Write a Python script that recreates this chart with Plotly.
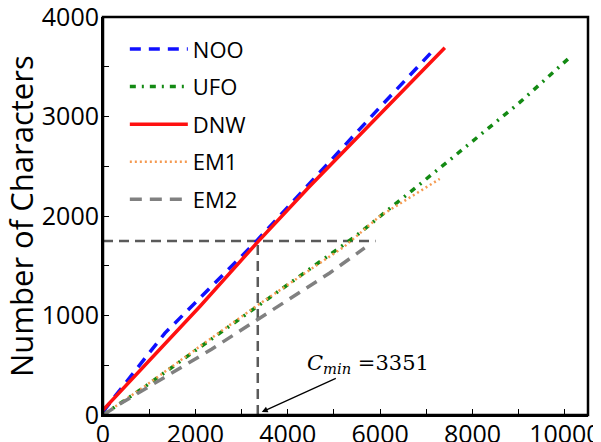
import plotly.graph_objects as go

# ---- data ----
noo_x = [0, 280, 1340, 3250, 5917, 7180]
noo_y = [30, 200, 823, 1712, 3054, 3680]

ufo_x = [0, 908, 2097, 3351, 5449, 7430, 9016, 10155]
ufo_y = [0, 285, 680, 1098, 1790, 2534, 3139, 3615]

dnw_x = [0, 2097, 3351, 4476, 7400]
dnw_y = [50, 1091, 1740, 2299, 3690]

em1_x = [0, 908, 2097, 3351, 5232, 5989, 7290]
em1_y = [0, 290, 690, 1105, 1695, 1997, 2373]

em2_x = [0, 400, 2350, 3351, 4187, 4908, 5665]
em2_y = [0, 120, 661, 957, 1209, 1427, 1679]

c_min = 3351
char_level = 1750
guide_x_end = 5900

x_range = [0, 10500]
y_range = [0, 4000]
x_ticks = [0, 1000, 2000, 3000, 4000, 5000, 6000, 7000, 8000, 9000, 10000]
x_tick_text = ["0", "", "2000", "", "4000", "", "6000", "", "8000", "", "10000"]
y_ticks = [0, 500, 1000, 1500, 2000, 2500, 3000, 3500, 4000]
y_tick_text = ["0", "", "1000", "", "2000", "", "3000", "", "4000"]

FONT = "Open Sans"

fig = go.Figure()

series = [
    ("NOO", noo_x, noo_y, "#1010ff", 3.5, "11px,8px"),
    ("UFO", ufo_x, ufo_y, "#138a13", 3.5, "6px,6px,2px,6px"),
    ("DNW", dnw_x, dnw_y, "#ff1010", 3.5, "solid"),
    ("EM1", em1_x, em1_y, "#f59a50", 2.5, "2px,3px"),
    ("EM2", em2_x, em2_y, "#808080", 3.5, "12px,8px"),
]

# guide lines
fig.add_trace(go.Scatter(x=[0, guide_x_end], y=[char_level, char_level], mode="lines",
                         line=dict(color="#5a5a5a", width=2.5, dash="10px,6px"),
                         showlegend=False, hoverinfo="skip"))
fig.add_trace(go.Scatter(x=[c_min, c_min], y=[0, char_level], mode="lines",
                         line=dict(color="#5a5a5a", width=2.5, dash="10px,6px"),
                         showlegend=False, hoverinfo="skip"))

for name, xs, ys, col, w, dash in series:
    fig.add_trace(go.Scatter(x=xs, y=ys, mode="lines", name=name, legendgroup=name,
                             line=dict(color=col, width=w, dash=dash)))

fig.add_annotation(x=3437, y=30, ax=5730, ay=514, xref="x", yref="y", axref="x", ayref="y",
                   text="<i>C</i><sub><i>min</i></sub> =3351", showarrow=True,
                   arrowhead=2, arrowsize=1, arrowwidth=1.2, arrowcolor="black",
                   font=dict(family="DejaVu Serif", size=21, color="black"))

# y-axis title placed as rotated text
fig.add_annotation(x=-0.169, y=0.5, xref="paper", yref="paper", xanchor="center", yanchor="middle",
                   text="Number of Characters", textangle=-90, showarrow=False,
                   font=dict(family=FONT, size=31, color="black"))

# frame round the plot area
fig.add_shape(type="rect", xref="paper", yref="paper", x0=0, y0=0, x1=1, y1=1,
              line=dict(color="black", width=2.5), layer="above")

axis_common = dict(showline=True, linecolor="black", linewidth=2,
                   ticks="inside", ticklen=6, tickwidth=1.3, tickcolor="black",
                   showgrid=False, zeroline=False, automargin=False,
                   ticklabeloverflow="allow",
                   tickfont=dict(family=FONT, size=25, color="black"))

fig.update_layout(
    xaxis=dict(range=x_range, tickvals=x_ticks, ticktext=x_tick_text, ticklabelstandoff=-4,
               **axis_common),
    yaxis=dict(range=y_range, tickvals=y_ticks, ticktext=y_tick_text, ticklabelstandoff=-3,
               **axis_common),
)

# margins chosen so the plot area lands at x 103..588, y 17..415 in the window
fig.update_layout(
    width=601, height=442,
    margin=dict(l=95, r=21, t=9, b=35),
    paper_bgcolor="white", plot_bgcolor="white",
    legend=dict(x=0.045, y=0.972, xanchor="left", yanchor="top", bgcolor="rgba(0,0,0,0)",
                font=dict(family=FONT, size=22, color="black"), tracegroupgap=6,
                itemwidth=58),
    showlegend=True,
)

fig.write_html("out.html")
